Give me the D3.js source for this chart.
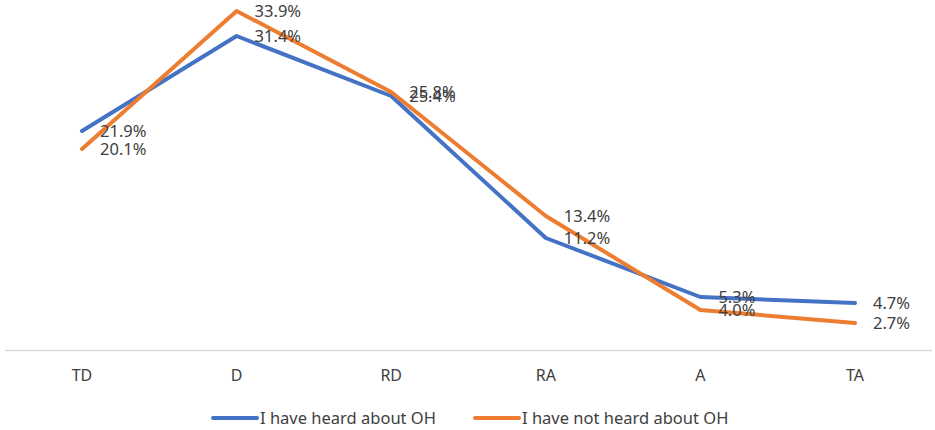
<!DOCTYPE html>
<html>
<head>
<meta charset="utf-8">
<script src="https://cdn.jsdelivr.net/npm/d3@7"></script>
<style>
  body { margin: 0; background: #fff; }
  text { font-family: "Noto Sans", sans-serif; fill: #404040; }
</style>
</head>
<body>
<div id="chart"></div>
<script>
var width = 935;
var height = 430;

var categories = ['TD', 'D', 'RD', 'RA', 'A', 'TA'];
var seriesNames = ['I have heard about OH', 'I have not heard about OH'];
var heard = [21.9, 31.4, 25.4, 11.2, 5.3, 4.7];
var notHeard = [20.1, 33.9, 25.8, 13.4, 4.0, 2.7];
var colors = ['#4472C4', '#ED7D31'];

var series = [
  { name: seriesNames[0], values: heard, color: colors[0] },
  { name: seriesNames[1], values: notHeard, color: colors[1] }
];

var svg = d3.select('#chart')
  .append('svg')
  .attr('width', width)
  .attr('height', height);

var x = d3.scalePoint()
  .domain(categories)
  .range([82, 855]);

var y = d3.scaleLinear()
  .domain([0, 35])
  .range([350, 0]);

// category axis
svg.append('line')
  .attr('x1', 5)
  .attr('x2', 932)
  .attr('y1', y(0) + 0.5)
  .attr('y2', y(0) + 0.5)
  .style('stroke', '#d9d9d9')
  .style('stroke-width', 1.5);

svg.selectAll('.cat')
  .data(categories)
  .enter()
  .append('text')
  .attr('class', 'cat')
  .attr('x', function(d) { return x(d); })
  .attr('y', 381)
  .attr('text-anchor', 'middle')
  .style('font-size', '16px')
  .text(function(d) { return d; });

var line = d3.line()
  .x(function(d, i) { return x(categories[i]); })
  .y(function(d) { return y(d); });

series.forEach(function(s) {
  svg.append('path')
    .datum(s.values)
    .attr('d', line)
    .style('fill', 'none')
    .style('stroke', s.color)
    .style('stroke-width', 4)
    .style('stroke-linecap', 'round')
    .style('stroke-linejoin', 'round');
});

series.forEach(function(s) {
  svg.selectAll(null)
    .data(s.values)
    .enter()
    .append('text')
    .attr('x', function(d, i) { return x(categories[i]) + 18; })
    .attr('y', function(d) { return y(d) + 6; })
    .style('font-size', '16.5px')
    .text(function(d) { return d.toFixed(1) + '%'; });
});

// legend
var legendX = [213, 475];
series.forEach(function(s, i) {
  var g = svg.append('g')
    .attr('transform', 'translate(' + legendX[i] + ',418)');
  g.append('line')
    .attr('x1', 0)
    .attr('x2', 44)
    .style('stroke', s.color)
    .style('stroke-width', 4)
    .style('stroke-linecap', 'round');
  g.append('text')
    .attr('x', 47)
    .attr('y', 6)
    .style('font-size', '16.5px')
    .text(s.name);
});
</script>
</body>
</html>
